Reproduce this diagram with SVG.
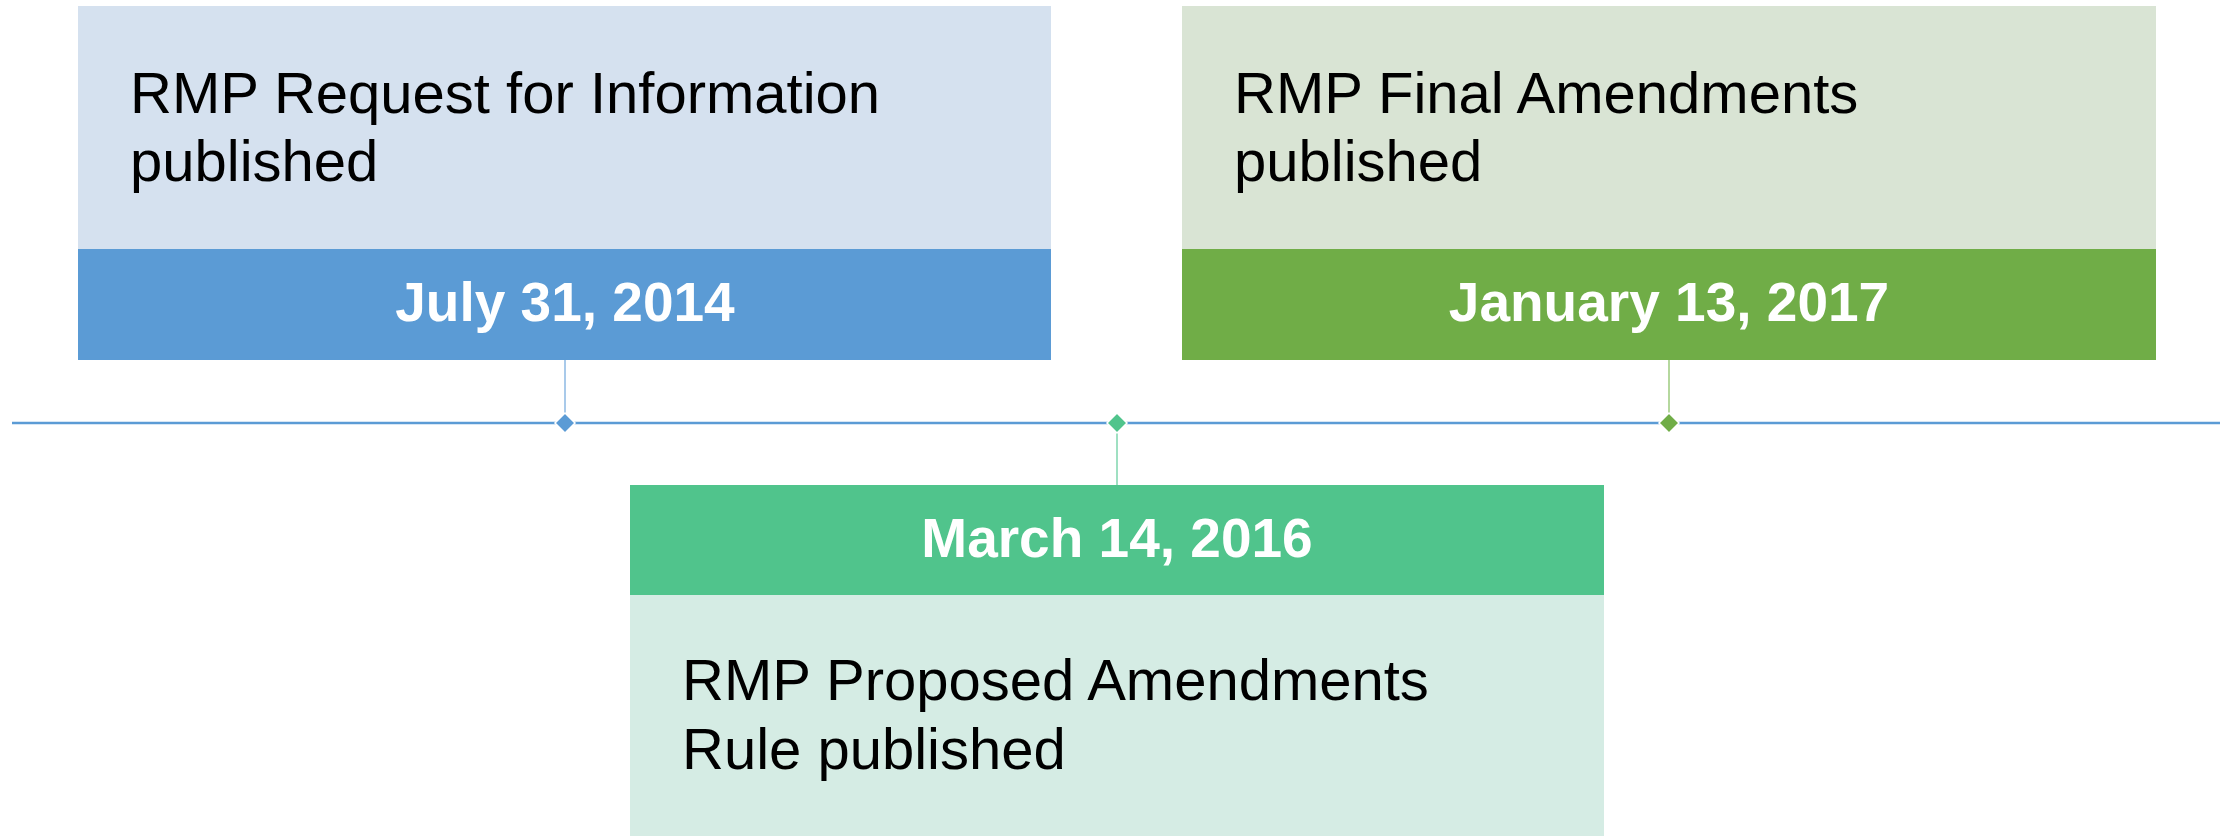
<svg xmlns="http://www.w3.org/2000/svg" width="2233" height="836" viewBox="0 0 2233 836">
<style>
.body{font-family:"Liberation Sans",Arial,sans-serif;font-size:58px;fill:#000}
.date{font-family:"Liberation Sans",Arial,sans-serif;font-size:55px;font-weight:bold;fill:#fff;text-anchor:middle}
.dia{stroke:#fff;stroke-width:1.5}
</style>
<rect width="2233" height="836" fill="#fff"/>
<g id="connectors">
<line x1="12" y1="423" x2="2220" y2="423" stroke="#5B9BD5" stroke-width="2.5"/>
<line x1="565" y1="360" x2="565" y2="414" stroke="#8DB8E3" stroke-width="1.5"/>
<line x1="1117" y1="432" x2="1117" y2="485" stroke="#7FD6AE" stroke-width="1.5"/>
<line x1="1669" y1="360" x2="1669" y2="414" stroke="#9CCB7E" stroke-width="1.5"/>
<polygon class="dia" points="565,413 575,423 565,433 555,423" fill="#5B9BD5"/>
<polygon class="dia" points="1117,413 1127,423 1117,433 1107,423" fill="#50C48C"/>
<polygon class="dia" points="1669,413 1679,423 1669,433 1659,423" fill="#70AD47"/>
</g>
<g id="node1">
<rect x="78" y="6" width="973" height="243" fill="#D5E1EF"/>
<rect x="78" y="249" width="973" height="111" fill="#5B9BD5"/>
<text class="body" x="130" y="113">RMP Request for Information</text>
<text class="body" x="130" y="181">published</text>
<text class="date" x="565" y="321">July 31, 2014</text>
</g>
<g id="node2">
<rect x="630" y="485" width="974" height="110" fill="#50C48C"/>
<rect x="630" y="595" width="974" height="241" fill="#D5ECE4"/>
<text class="date" x="1117" y="557">March 14, 2016</text>
<text class="body" x="682" y="700">RMP Proposed Amendments</text>
<text class="body" x="682" y="769">Rule published</text>
</g>
<g id="node3">
<rect x="1182" y="6" width="974" height="243" fill="#D9E4D4"/>
<rect x="1182" y="249" width="974" height="111" fill="#70AD47"/>
<text class="body" x="1234" y="113">RMP Final Amendments</text>
<text class="body" x="1234" y="181">published</text>
<text class="date" x="1669" y="321">January 13, 2017</text>
</g>
</svg>
